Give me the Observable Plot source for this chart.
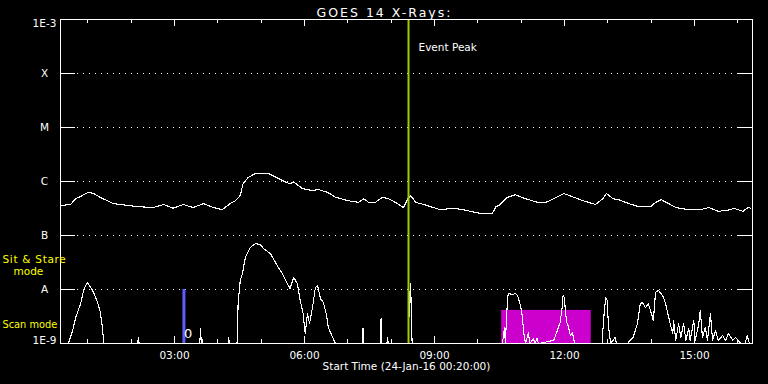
<!DOCTYPE html>
<html><head><meta charset="utf-8">
<script src="https://cdn.jsdelivr.net/npm/d3@7"></script>
<script src="https://cdn.jsdelivr.net/npm/@observablehq/plot@0.6"></script>
<style>html,body{margin:0;padding:0;background:#000;}</style>
</head><body><div id="chart"></div>
<script>
const day = "2016-01-24";
const xStart = "00:22:06", xEnd = "16:20:18";
const title = "GOES 14 X-Rays:";
const xLabel = "Start Time (24-Jan-16 00:20:00)";
const yTicks = [1e-9, 1e-8, 1e-7, 1e-6, 1e-5, 1e-4, 1e-3];
const yTickLabels = ["1E-9", "A", "B", "C", "M", "X", "1E-3"];
const hourTicks = ["01:00","02:00","03:00","04:00","05:00","06:00","07:00","08:00","09:00","10:00","11:00","12:00","13:00","14:00","15:00","16:00"];
const majorTicks = ["03:00","06:00","09:00","12:00","15:00"];

// long channel (1-8 A)
const longTimes = ["00:22","00:36","00:43","00:50","00:57","01:01","01:08","01:17","01:35","01:55","02:13","02:31","02:45","02:58","03:12","03:26","03:40","03:54","04:06","04:17","04:24","04:31","04:35","04:42","04:52","05:10","05:24","05:38","05:46","05:57","06:11","06:19","06:32","06:43","07:01","07:15","07:22","07:29","07:38","07:48","07:56","08:06","08:17","08:23","08:27","08:34","08:45","08:55","09:08","09:26","09:40","09:50","10:04","10:20","10:25","10:31","10:41","10:52","11:06","11:23","11:34","11:45","11:59","12:13","12:26","12:43","12:53","12:58","13:07","13:15","13:29","13:43","13:59","14:06","14:14","14:24","14:34","14:52","15:08","15:20","15:33","15:50","15:54","16:07","16:14","16:18"];
const longFlux = [3.6e-7,3.75e-7,4.8e-7,5.3e-7,6.0e-7,6.3e-7,6.0e-7,5.1e-7,3.9e-7,3.6e-7,3.4e-7,3.3e-7,3.75e-7,3.2e-7,3.75e-7,3.3e-7,3.9e-7,3.3e-7,3.0e-7,3.9e-7,4.4e-7,5.5e-7,9.2e-7,1.19e-6,1.41e-6,1.41e-6,1.14e-6,9.2e-7,9.6e-7,7.4e-7,6.8e-7,7.1e-7,6.3e-7,5.1e-7,4.4e-7,4.1e-7,4.8e-7,4.1e-7,4.1e-7,5.1e-7,4.8e-7,4.1e-7,3.3e-7,4.8e-7,5.5e-7,4.1e-7,3.75e-7,3.4e-7,3.0e-7,3.2e-7,3.0e-7,2.8e-7,2.55e-7,2.55e-7,3.4e-7,3.75e-7,5.1e-7,5.7e-7,4.8e-7,4.1e-7,4.1e-7,4.8e-7,6.0e-7,5.1e-7,4.4e-7,3.75e-7,4.8e-7,6.0e-7,4.8e-7,4.6e-7,3.9e-7,3.4e-7,3.4e-7,4.1e-7,4.6e-7,3.9e-7,3.3e-7,3.0e-7,3.0e-7,3.3e-7,2.8e-7,3.0e-7,3.2e-7,2.8e-7,3.3e-7,3.2e-7];

// short channel (0.5-4 A)
const shortTimes = ["00:22","00:33","00:39","00:43","00:50","00:54","00:59","01:04","01:08","01:13","01:17","01:20","01:22","02:09","02:10","02:11","03:35","03:36","03:37","03:38","03:39","04:14","04:15","04:16","04:24","04:27","04:28","04:31","04:34","04:38","04:45","04:52","04:59","05:03","05:13","05:22","05:29","05:36","05:40","05:45","05:50","05:54","05:58","06:01","06:04","06:07","06:11","06:15","06:18","06:22","06:26","06:30","06:33","06:39","06:43","07:20","07:21","07:22","07:45","07:46","07:47","07:54","07:55","07:56","08:24","08:25","08:27","08:28","08:29","10:34","10:37","10:38","10:41","10:42","10:48","10:52","10:55","10:59","11:02","11:03","11:06","11:10","11:12","11:17","11:19","11:22","11:24","11:45","11:50","11:54","11:57","11:58","12:00","12:01","12:03","12:05","12:08","12:11","12:14","12:52","12:54","12:57","12:59","13:01","13:04","13:10","13:12","13:27","13:35","13:41","13:45","13:48","13:52","13:56","14:02","14:03","14:06","14:10","14:16","14:20","14:23","14:27","14:30","14:31","14:34","14:38","14:41","14:45","14:48","14:52","14:54","14:59","15:01","15:06","15:08","15:11","15:15","15:18","15:22","15:25","15:29","15:33","15:39","15:43","15:47","15:53","15:57","16:04","16:10","16:13","16:16","16:20"];
const shortFlux = [1e-9,1e-9,1.74e-9,3.0e-9,5.5e-9,9.6e-9,1.35e-8,1.09e-8,8.8e-9,6.0e-9,3.9e-9,2.06e-9,1e-9,1e-9,1.29e-9,1e-9,1e-9,1.9e-9,1e-9,1.2e-9,1e-9,1e-9,1.29e-9,1e-9,1e-9,1.04e-9,5.5e-9,1.47e-8,1.98e-8,3.9e-8,6.0e-8,7.1e-8,6.8e-8,5.75e-8,4.6e-8,2.8e-8,1.98e-8,1.29e-8,1.04e-8,1.67e-8,1.29e-8,6.3e-9,3.6e-9,1.53e-9,3.6e-9,2.34e-9,4.6e-9,1.09e-8,1.19e-8,6.8e-9,5.75e-9,3.6e-9,1.98e-9,1.29e-9,1e-9,1e-9,1.9e-9,1e-9,1e-9,2.9e-9,1e-9,1e-9,1.29e-9,1e-9,1e-9,6.3e-9,1.29e-8,2.67e-9,1e-9,1e-9,1.98e-9,1e-9,6.3e-9,8.4e-9,8.1e-9,8.4e-9,7.7e-9,5.05e-9,3.0e-9,1.74e-9,1e-9,1.6e-9,1e-9,1.24e-9,1e-9,1.24e-9,1e-9,1.14e-9,1.74e-9,2.45e-9,5.05e-9,7.7e-9,7.1e-9,4.1e-9,2.45e-9,2.15e-9,1.41e-9,1.6e-9,1e-9,1e-9,2.67e-9,7.1e-9,6.3e-9,1.98e-9,1e-9,1.29e-9,1e-9,1e-9,1.29e-9,2.34e-9,5.5e-9,5.75e-9,4.6e-9,5.5e-9,3.0e-9,2.67e-9,8.8e-9,9.6e-9,7.7e-9,5.5e-9,3.6e-9,2.15e-9,1.53e-9,2.67e-9,1.14e-9,2.34e-9,1.29e-9,2.34e-9,1.14e-9,1.9e-9,1.14e-9,2.67e-9,1.14e-9,2.34e-9,4.1e-9,1.29e-9,1.98e-9,1.14e-9,3.6e-9,1.14e-9,1.74e-9,1.14e-9,1.41e-9,1.14e-9,1.53e-9,1.14e-9,1.29e-9,1e-9,1e-9,1.41e-9,1e-9,1e-9];

// event / mode markers
const eventPeak = "08:24";
const eventLabel = "Event Peak";
const stareTime = "03:13";
const stareRange = [1e-9, 1e-8];
const stareLabel = "0";
const scanStart = "10:33", scanEnd = "12:37";
const scanRange = [1e-9, 4.1e-9];
const sitStareLabel = ["Sit & Stare", "mode"];
const scanModeLabel = "Scan mode";

const T = s => new Date(`${day}T${s.length === 5 ? s + ":00" : s}Z`);
const longData = longTimes.map((t, i) => ({t: T(t), v: longFlux[i]}));
const shortData = shortTimes.map((t, i) => ({t: T(t), v: shortFlux[i]}));
const labelMap = new Map(yTicks.map((d, i) => [d, yTickLabels[i]]));
const minorHours = hourTicks.filter(h => !majorTicks.includes(h));

const font = "DejaVu Sans, sans-serif";
const chart = Plot.plot({
  width: 768, height: 384,
  marginLeft: 60, marginRight: 16, marginTop: 19, marginBottom: 41,
  style: {background: "#000", color: "#fff", fontFamily: font, fontSize: "10.5px"},
  x: {type: "utc", domain: [T(xStart), T(xEnd)], axis: null},
  y: {type: "log", domain: [1e-9, 1e-3], axis: null},
  marks: [
    Plot.ruleY(yTicks.slice(1, -1), {y: d => d, stroke: "#fff", strokeDasharray: "1,5", insetLeft: 17, insetRight: 16, shapeRendering: "crispEdges"}),
    Plot.ruleY(yTicks, {y: d => d, stroke: "#fff", insetRight: 677, shapeRendering: "crispEdges"}),
    Plot.ruleY(yTicks, {y: d => d, stroke: "#fff", insetLeft: 677, shapeRendering: "crispEdges"}),
    Plot.ruleX(minorHours, {x: T, stroke: "#fff", insetBottom: 320, shapeRendering: "crispEdges"}),
    Plot.ruleX(majorTicks, {x: T, stroke: "#fff", insetBottom: 317, shapeRendering: "crispEdges"}),
    Plot.ruleX(minorHours, {x: T, stroke: "#fff", insetTop: 320, shapeRendering: "crispEdges"}),
    Plot.ruleX(majorTicks, {x: T, stroke: "#fff", insetTop: 317, shapeRendering: "crispEdges"}),
    Plot.rectY([{x1: T(scanStart), x2: T(scanEnd), y1: scanRange[0], y2: scanRange[1]}], {x1: "x1", x2: "x2", y1: "y1", y2: "y2", fill: "#cc00cc"}),
    Plot.ruleX([T(stareTime)], {x: d => d, y1: stareRange[0], y2: stareRange[1], stroke: "#5c5cff", strokeWidth: 3}),
    Plot.line(longData, {x: "t", y: "v", stroke: "#fff", strokeWidth: 1.1, clip: true, shapeRendering: "crispEdges"}),
    Plot.line(shortData, {x: "t", y: "v", stroke: "#fff", strokeWidth: 1.1, clip: true, shapeRendering: "crispEdges"}),
    Plot.ruleX([T(eventPeak)], {x: d => d, stroke: "#a0cc00", strokeWidth: 2}),
    Plot.frame({stroke: "#fff", shapeRendering: "crispEdges"}),
    // texts
    Plot.text([title], {text: d => d, frameAnchor: "top", dx: -22, dy: -11, fontSize: 12.5, fill: "#fff"}),
    Plot.text([eventLabel], {x: () => T(eventPeak), text: d => d, frameAnchor: "top", dx: 10, dy: 24, textAnchor: "start", fill: "#fff"}),
    Plot.text([stareLabel], {x: () => T(stareTime), y: () => 1.5e-9, text: d => d, dx: 0, textAnchor: "start", fill: "#fff", fontSize: 13}),
    Plot.text(yTicks.slice(1, -1), {y: d => d, text: d => labelMap.get(d), frameAnchor: "left", dx: -16, textAnchor: "middle", fill: "#fff"}),
    Plot.text([yTicks[yTicks.length - 1]], {y: d => d, text: d => labelMap.get(d), frameAnchor: "left", dx: -16, dy: 4, textAnchor: "middle", fill: "#fff"}),
    Plot.text([yTicks[0]], {y: d => d, text: d => labelMap.get(d), frameAnchor: "left", dx: -16, dy: -3, textAnchor: "middle", fill: "#fff"}),
    Plot.text(majorTicks, {x: T, text: d => d, frameAnchor: "bottom", lineAnchor: "top", dy: 8, fill: "#fff"}),
    Plot.text([xLabel], {text: d => d, frameAnchor: "bottom", lineAnchor: "top", dy: 19, fill: "#fff"}),
    Plot.text([sitStareLabel[0]], {text: d => d, frameAnchor: "left", dx: -58, dy: 78, textAnchor: "start", fill: "#ffff00"}),
    Plot.text([sitStareLabel[1]], {text: d => d, frameAnchor: "left", dx: -47, dy: 90, textAnchor: "start", fill: "#ffff00"}),
    Plot.text([scanModeLabel], {text: d => d, frameAnchor: "left", dx: -58, dy: 143, textAnchor: "start", fill: "#ffff00", fontSize: 9.8})
  ]
});
for (const el of chart.querySelectorAll("text")) {
  if (el.textContent === title) el.setAttribute("letter-spacing", "2");
  if (el.textContent === sitStareLabel[0]) el.setAttribute("letter-spacing", "0.7");
}
document.getElementById("chart").appendChild(chart);
</script>
</body></html>
